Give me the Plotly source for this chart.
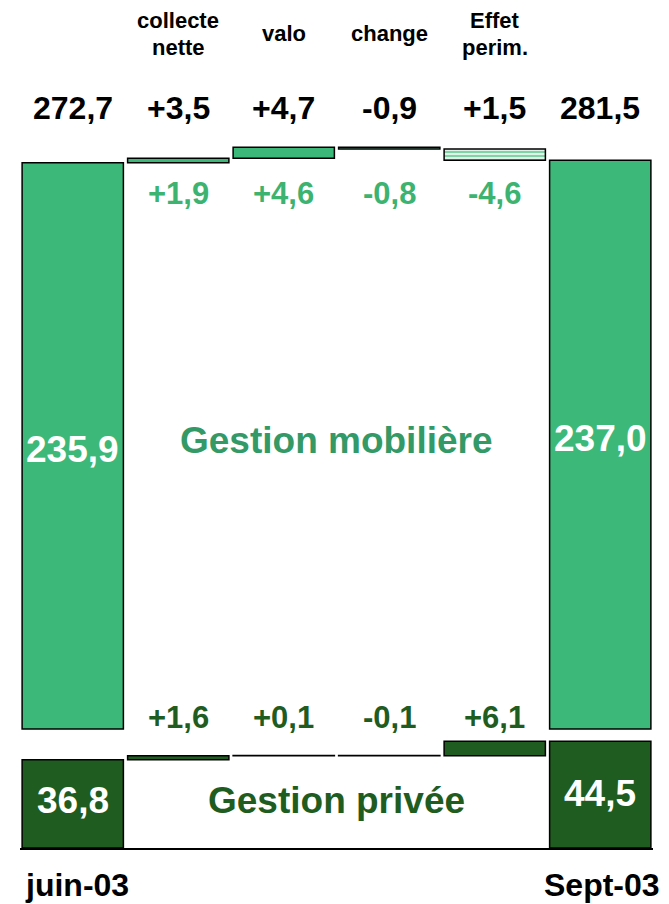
import plotly.graph_objects as go

# ---------------- data ----------------
steps = [["collecte", "nette"], ["valo"], ["change"], ["Effet", "perim."]]
end_labels = ["juin-03", "Sept-03"]
mob_start, mob_end = 235.9, 237.0
mob_deltas = [1.9, 4.6, -0.8, -4.6]
prv_start, prv_end = 36.8, 44.5
prv_deltas = [1.6, 0.1, -0.1, 6.1]

# ---------------- layout constants ----------------
W, H = 661, 896            # page has an 8px body margin
T, B = 120, 56
PLOT_TOP, PLOT_BOTTOM = 128, 848   # page pixel rows of the plot area
YMAX = 300.0
MOB_BASE = 49.6            # vertical offset of the "Gestion mobilière" block
LIGHT = "#3cb878"
DARK = "#1f5c1f"
LIGHT_TXT = "#3cb371"
MOB_TXT = "#339966"
FONT = "Liberation Sans, Arial, sans-serif"

def py(px):
    """page pixel row -> paper fraction"""
    return (PLOT_BOTTOM - px) / (PLOT_BOTTOM - PLOT_TOP)

def fmt(v, sign=False):
    s = f"{v:+.1f}" if sign else f"{v:.1f}"
    return s.replace(".", ",")

xs = list(range(6))

def waterfall(start, deltas, end, offset):
    bases, heights = [offset], [start]
    level = offset + start
    for d in deltas:
        bases.append(level)
        heights.append(d)
        level += d
    bases.append(offset)
    heights.append(end)
    return bases, heights

mb, mh = waterfall(mob_start, mob_deltas, mob_end, MOB_BASE)
pb, ph = waterfall(prv_start, prv_deltas, prv_end, 0)

def shapes_for(h):
    return [""] + ["-" if d < 0 else "" for d in h[1:-1]] + [""]

fig = go.Figure()
fig.add_trace(go.Bar(
    x=xs, y=mh, base=mb, width=0.96,
    marker=dict(color=LIGHT, line=dict(color="black", width=1.5),
                pattern=dict(shape=shapes_for(mh), fgcolor="#eaf8f0",
                             size=4, solidity=0.45, fillmode="replace",
                             bgcolor="#7fd3a5")),
    hoverinfo="skip", showlegend=False))
fig.add_trace(go.Bar(
    x=xs, y=ph, base=pb, width=0.96,
    marker=dict(color=DARK, line=dict(color="black", width=1.5)),
    hoverinfo="skip", showlegend=False))

ann = []
def A(x, y, text, size, color="black", xshift=0):
    ann.append(dict(x=x, y=py(y), text=text, showarrow=False, xref="x", yref="paper",
                    xshift=xshift,
                    font=dict(family=FONT, size=size, color=color),
                    xanchor="center", yanchor="middle"))

# headers
for i, lines in enumerate(steps):
    if len(lines) == 1:
        A(i + 1, 33, f"<b>{lines[0]}</b>", 22)
    else:
        A(i + 1, 20, f"<b>{lines[0]}</b>", 22)
        A(i + 1, 48, f"<b>{lines[1]}</b>", 22)
# totals row
totals = [mob_start + prv_start] + [a + b for a, b in zip(mob_deltas, prv_deltas)] + [mob_end + prv_end]
for i, t in enumerate(totals):
    A(i, 108, f"<b>{fmt(t, sign=0 < i < 5)}</b>", 32)
# deltas
for i, d in enumerate(mob_deltas):
    A(i + 1, 193, f"<b>{fmt(d, True)}</b>", 31, LIGHT_TXT)
for i, d in enumerate(prv_deltas):
    A(i + 1, 717, f"<b>{fmt(d, True)}</b>", 31, DARK)
# inside bars
A(0, 449, f"<b>{fmt(mob_start)}</b>", 37, "white")
A(5, 438, f"<b>{fmt(mob_end)}</b>", 37, "white")
A(0, 800, f"<b>{fmt(prv_start)}</b>", 37, "white")
A(5, 793, f"<b>{fmt(prv_end)}</b>", 37, "white")
# segment names
A(2.5, 440, "<b>Gestion mobilière</b>", 37, MOB_TXT)
A(2.5, 800, "<b>Gestion privée</b>", 37, DARK)
# x labels
A(0, 885, f"<b>{end_labels[0]}</b>", 32, xshift=4)
A(5, 885, f"<b>{end_labels[1]}</b>", 32, xshift=2)

fig.update_layout(
    width=W, height=H, margin=dict(l=12, r=16, t=T, b=B),
    plot_bgcolor="white", paper_bgcolor="white",
    barmode="overlay", annotations=ann,
    xaxis=dict(range=[-0.5, 5.5], showgrid=False, zeroline=False,
               showticklabels=False, showline=True, linecolor="black",
               linewidth=1.5, ticks=""),
    yaxis=dict(range=[0, YMAX], showgrid=False, zeroline=False,
               showticklabels=False, showline=False),
)
fig.write_html("out.html")
